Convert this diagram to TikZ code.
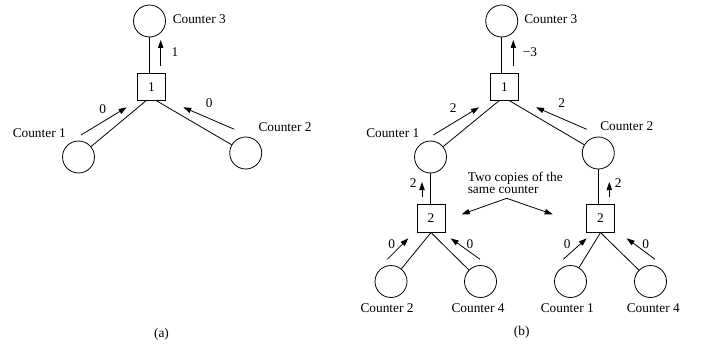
\documentclass[tikz,border=0pt]{standalone}
\usepackage{fontspec}
\setmainfont{Liberation Serif}
\usetikzlibrary{arrows.meta,calc}
\begin{document}
\begin{tikzpicture}[x=0.75pt,y=-0.75pt,
  every node/.style={font=\fontsize{10}{9}\selectfont},
  cnt/.style={draw,circle,minimum size=24pt,inner sep=0pt,line width=0.6pt},
  box/.style={draw,rectangle,minimum width=21pt,minimum height=20.5pt,inner sep=0pt,line width=0.6pt},
  lbl/.style={inner sep=0pt},
  ln/.style={line width=0.6pt},
  arr/.style={line width=0.6pt,-{Triangle[length=6pt,width=4pt]}}]
\path[use as bounding box] (0,0) rectangle (713,346);

% ---------------- (a) ----------------
\node[cnt] (c3a) at (149.5,21) {};
\node[box] (b1a) at (151.5,86.7) {1};
\node[cnt] (c1a) at (78.5,157) {};
\node[cnt] (c2a) at (245.7,153) {};
\node[lbl,anchor=west] (t3a) at (172.5,19) {Counter 3};
\node[lbl,anchor=west] (t1a) at (12.5,132.7) {Counter 1};
\node[lbl,anchor=west] (t2a) at (258.3,127) {Counter 2};
\draw[ln] (c3a.south) -- (c3a.south |- b1a.north);
\coordinate (b1aL) at ($(b1a.south)+(-5.5,0)$);
\coordinate (b1aR) at ($(b1a.south)+(5,0)$);
\draw[ln] (b1aL) -- (c1a);
\draw[ln] (b1aR) -- (c2a);
\coordinate (a1s) at (160.7,65.7); \coordinate (a1e) at (160.7,40);
\draw[arr] (a1s) -- (a1e);
\node[lbl] (v1a) at (175,51.7) {1};
\coordinate (a2s) at (81,135); \coordinate (a2e) at (126.7,107.3);
\draw[arr] (a2s) -- (a2e);
\node[lbl] (v2a) at (102.7,109.3) {0};
\coordinate (a3s) at (234.3,129.3); \coordinate (a3e) at (183.3,107.3);
\draw[arr] (a3s) -- (a3e);
\node[lbl] (v3a) at (209.3,102.7) {0};
\node[lbl] (capa) at (161.5,334.5) {(a)};

% ---------------- (b) ----------------
\node[cnt] (c3b) at (501.7,21) {};
\node[box] (b1b) at (504.5,86.7) {1};
\node[cnt] (c1b) at (430.5,157) {};
\node[cnt] (c2b) at (598.3,153) {};
\node[lbl,anchor=west] (t3b) at (524,19) {Counter 3};
\node[lbl,anchor=west] (t1b) at (366,132.7) {Counter 1};
\node[lbl,anchor=west] (t2b) at (600,126.5) {Counter 2};
\draw[ln] (c3b.south) -- (c3b.south |- b1b.north);
\coordinate (b1bL) at ($(b1b.south)+(-5.5,0)$);
\coordinate (b1bR) at ($(b1b.south)+(5,0)$);
\draw[ln] (b1bL) -- (c1b);
\draw[ln] (b1bR) -- (c2b);
\coordinate (b1s) at (513.3,66); \coordinate (b1e) at (513.3,40);
\draw[arr] (b1s) -- (b1e);
\node[lbl] (v1b) at (530,51.7) {−3};
\coordinate (b2s) at (433.3,135); \coordinate (b2e) at (479,107.3);
\draw[arr] (b2s) -- (b2e);
\node[lbl] (v2b) at (453.3,108.3) {2};
\coordinate (b3s) at (586.7,129.3); \coordinate (b3e) at (536,107.3);
\draw[arr] (b3s) -- (b3e);
\node[lbl] (v3b) at (561.7,102.7) {2};

% lower left subtree
\node[box] (b2l) at (431,218.5) {2};
\draw[ln] (c1b.south) -- (c1b.south |- b2l.north);
\coordinate (l1s) at (422,197.3); \coordinate (l1e) at (422,182);
\draw[arr] (l1s) -- (l1e);
\node[lbl] (vl1) at (413.3,183) {2};
\node[cnt] (c2l) at (391,281.5) {};
\node[cnt] (c4l) at (480.5,281.5) {};
\draw[ln] (b2l.south) -- (c2l);
\draw[ln] (b2l.south) -- (c4l);
\coordinate (l2s) at (387.3,259.3); \coordinate (l2e) at (408.3,238.3);
\draw[arr] (l2s) -- (l2e);
\node[lbl] (vl2) at (391.7,244.3) {0};
\coordinate (l3s) at (480,259.3); \coordinate (l3e) at (450.7,238.3);
\draw[arr] (l3s) -- (l3e);
\node[lbl] (vl3) at (470,244.3) {0};
\node[lbl] (t2l) at (387,308) {Counter 2};
\node[lbl] (t4l) at (478,308) {Counter 4};

% lower right subtree
\node[box] (b2r) at (600.5,218.5) {2};
\draw[ln] (c2b.south) -- (c2b.south |- b2r.north);
\coordinate (r1s) at (609.3,197.3); \coordinate (r1e) at (609.3,182);
\draw[arr] (r1s) -- (r1e);
\node[lbl] (vr1) at (618.3,183) {2};
\node[cnt] (c1r) at (570.5,281.5) {};
\node[cnt] (c4r) at (650.5,281.5) {};
\draw[ln] (b2r.south) -- (c1r);
\draw[ln] (b2r.south) -- (c4r);
\coordinate (r2s) at (563.3,259.3); \coordinate (r2e) at (586.7,238.3);
\draw[arr] (r2s) -- (r2e);
\node[lbl] (vr2) at (567.3,244.3) {0};
\coordinate (r3s) at (655,259.3); \coordinate (r3e) at (626.7,238.3);
\draw[arr] (r3s) -- (r3e);
\node[lbl] (vr3) at (645.7,244.3) {0};
\node[lbl] (t1r) at (567.3,308) {Counter 1};
\node[lbl] (t4r) at (653.3,308) {Counter 4};

% annotation
\node[lbl,anchor=west,align=left] (note) at (467.5,183) {Two copies of the\\same counter};
\coordinate (apex) at (506.7,198.3);
\coordinate (pl) at (461.7,214.3);
\coordinate (pr) at (552.7,214.3);
\draw[arr] (apex) -- (pl);
\draw[arr] (apex) -- (pr);
\node[lbl] (capb) at (521.7,332.7) {(b)};
\end{tikzpicture}
\end{document}
